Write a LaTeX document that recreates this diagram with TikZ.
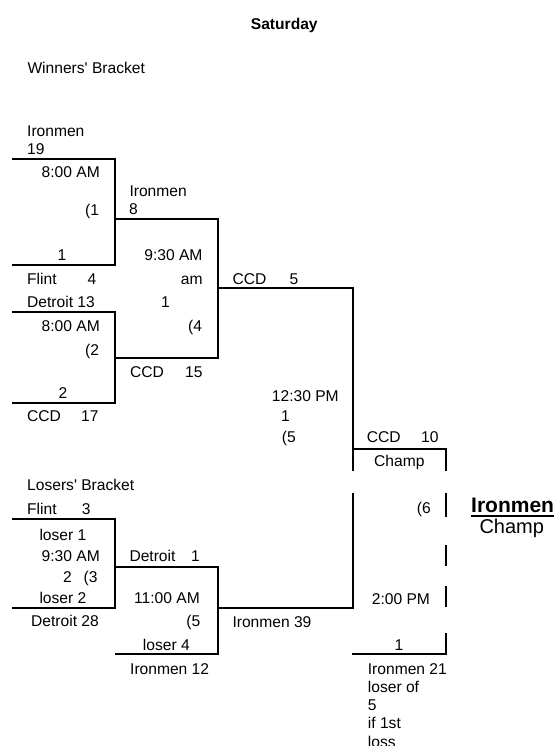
\documentclass[tikz,border=0pt]{standalone}
\usepackage{fontspec}
\setmainfont{Liberation Sans}
\begin{document}
\begin{tikzpicture}[x=1pt,y=1pt,
  lbl/.style={inner sep=0pt,anchor=base west,font=\fontsize{15.6}{18}\selectfont},
  rlbl/.style={inner sep=0pt,anchor=base east,font=\fontsize{15.6}{18}\selectfont},
  br/.style={line width=2pt,line join=miter}]
\useasboundingbox (0,0) rectangle (557,-746);
\clip (0,0) rectangle (557,-746);
% ---- bracket corners ----
\coordinate (a1) at (12,-159.3);  \coordinate (a2) at (115,-159.3);
\coordinate (a3) at (115,-264.7); \coordinate (a4) at (12,-264.7);
\coordinate (b1) at (12,-312);    \coordinate (b2) at (115,-312);
\coordinate (b3) at (115,-402.7); \coordinate (b4) at (12,-402.7);
\coordinate (c1) at (115,-218.7); \coordinate (c2) at (218,-218.7);
\coordinate (c3) at (218,-357.7); \coordinate (c4) at (115,-357.7);
\coordinate (d1) at (218,-288);   \coordinate (d2) at (353,-288);
\coordinate (d3) at (353,-471);
\coordinate (f1) at (353,-449.3); \coordinate (f2) at (446,-449.3);
\coordinate (f3) at (446,-471);
\coordinate (l1) at (12,-519.3);  \coordinate (l2) at (115,-519.3);
\coordinate (l3) at (115,-608.3); \coordinate (l4) at (12,-608.3);
\coordinate (m1) at (115,-566.7); \coordinate (m2) at (218,-566.7);
\coordinate (m3) at (218,-654.3); \coordinate (m4) at (115,-654.3);
\coordinate (n1) at (218,-608.3); \coordinate (n2) at (353,-608.3);
\coordinate (n3) at (353,-493);
\coordinate (g1) at (352,-654.3); \coordinate (g2) at (446,-654.3);
\coordinate (g3) at (446,-633);
\coordinate (h1) at (446,-493); \coordinate (h2) at (446,-517);
\coordinate (h3) at (446,-545); \coordinate (h4) at (446,-566);
\coordinate (h5) at (446,-586); \coordinate (h6) at (446,-607);
% ---- bracket lines ----
\draw[br] (a1) -- (a2) -- (a3) -- (a4);
\draw[br] (b1) -- (b2) -- (b3) -- (b4);
\draw[br] (c1) -- (c2) -- (c3) -- (c4);
\draw[br] (d1) -- (d2) -- (d3);
\draw[br] (f1) -- (f2) -- (f3);
\draw[br] (l1) -- (l2) -- (l3) -- (l4);
\draw[br] (m1) -- (m2) -- (m3) -- (m4);
\draw[br] (n1) -- (n2) -- (n3);
\draw[br] (g1) -- (g2) -- (g3);
\draw[br] (h1) -- (h2);
\draw[br] (h3) -- (h4);
\draw[br] (h5) -- (h6);
% ---- titles ----
\node[lbl,font=\fontsize{15.6}{18}\selectfont\bfseries] (sat) at (250.7,-29.3) {Saturday};
\node[lbl] (wb) at (27.3,-73.3) {Winners\textquotesingle{} Bracket};
\node[lbl] (lb) at (27,-490) {Losers\textquotesingle{} Bracket};
% ---- winners round 1 ----
\node[lbl] (t1) at (27,-136.7) {Ironmen};
\node[lbl] (t2) at (27,-155) {19};
\node[rlbl] (t3) at (100,-177.7) {8:00 AM};
\node[rlbl] (t4) at (99.3,-215) {(1};
\node[lbl] (t5) at (57.5,-260.7) {1};
\node[lbl] (t6) at (27,-284.3) {Flint};
\node[lbl] (t7) at (87.5,-284.3) {4};
\node[lbl] (t8) at (27,-307.7) {Detroit 13};
\node[rlbl] (t9) at (100,-331) {8:00 AM};
\node[rlbl] (t10) at (99.3,-355) {(2};
\node[lbl] (t11) at (58.5,-398.3) {2};
\node[lbl] (t12) at (27,-421) {CCD};
\node[lbl] (t13) at (81,-421) {17};
% ---- winners round 2 ----
\node[lbl] (u1) at (129.3,-196.7) {Ironmen};
\node[lbl] (u2) at (128.8,-214.3) {8};
\node[rlbl] (u3) at (202.7,-260.7) {9:30 AM};
\node[rlbl] (u4) at (202.7,-284.3) {am};
\node[lbl] (u5) at (161,-307.7) {1};
\node[rlbl] (u6) at (202.3,-331) {(4};
\node[lbl] (u7) at (130,-377.3) {CCD};
\node[lbl] (u8) at (185,-377.3) {15};
% ---- winners final ----
\node[lbl] (v1) at (232.3,-284) {CCD};
\node[lbl] (v2) at (289.3,-284) {5};
\node[lbl] (v3) at (271.7,-401) {12:30 PM};
\node[lbl] (v4) at (281,-421) {1};
\node[lbl] (v5) at (281.7,-442.7) {(5};
% ---- championship ----
\node[lbl] (w1) at (366.7,-442.7) {CCD};
\node[lbl] (w2) at (421,-442.7) {10};
\node[lbl] (w3) at (374,-466.3) {Champ};
\node[rlbl] (w4) at (431,-513.3) {(6};
\node[lbl] (w5) at (371.7,-604) {2:00 PM};
\node[lbl] (w6) at (394.3,-650.7) {1};
\node[lbl] (w7) at (367.7,-674) {Ironmen 21};
\node[lbl] (w8) at (367.7,-692.3) {loser of};
\node[lbl] (w9) at (367.7,-710.6) {5};
\node[lbl] (w10) at (367.7,-728.9) {if 1st};
\node[lbl] (w11) at (367.7,-747.2) {loss};
\node[inner sep=0pt,anchor=base west,font=\fontsize{21}{24}\selectfont\bfseries] (champ) at (471,-512) {Ironmen};
\draw[line width=1.8pt] ([yshift=-3.7pt]champ.base west) -- ([yshift=-3.7pt]champ.base east);
\node[inner sep=0pt,anchor=base west,font=\fontsize{20}{24}\selectfont] (champlbl) at (479.3,-533.5) {Champ};
% ---- losers round 1 ----
\node[lbl] (x1) at (27,-514) {Flint};
\node[lbl] (x2) at (81.7,-514) {3};
\node[lbl] (x3) at (39.3,-540.7) {loser 1};
\node[rlbl] (x4) at (100,-561.7) {9:30 AM};
\node[lbl] (x5) at (62.8,-582.7) {2};
\node[rlbl] (x6) at (97.7,-582.7) {(3};
\node[lbl] (x7) at (39.3,-603.3) {loser 2};
\node[lbl] (x8) at (31,-626.7) {Detroit 28};
% ---- losers round 2 ----
\node[lbl] (y1) at (129.3,-561.7) {Detroit};
\node[lbl] (y2) at (191,-561.7) {1};
\node[rlbl] (y3) at (200,-603.3) {11:00 AM};
\node[rlbl] (y4) at (200.5,-626.7) {(5};
\node[lbl] (y5) at (142.7,-650.7) {loser 4};
\node[lbl] (y6) at (130,-674) {Ironmen 12};
\node[lbl] (y7) at (232.3,-627) {Ironmen 39};
\end{tikzpicture}
\end{document}
